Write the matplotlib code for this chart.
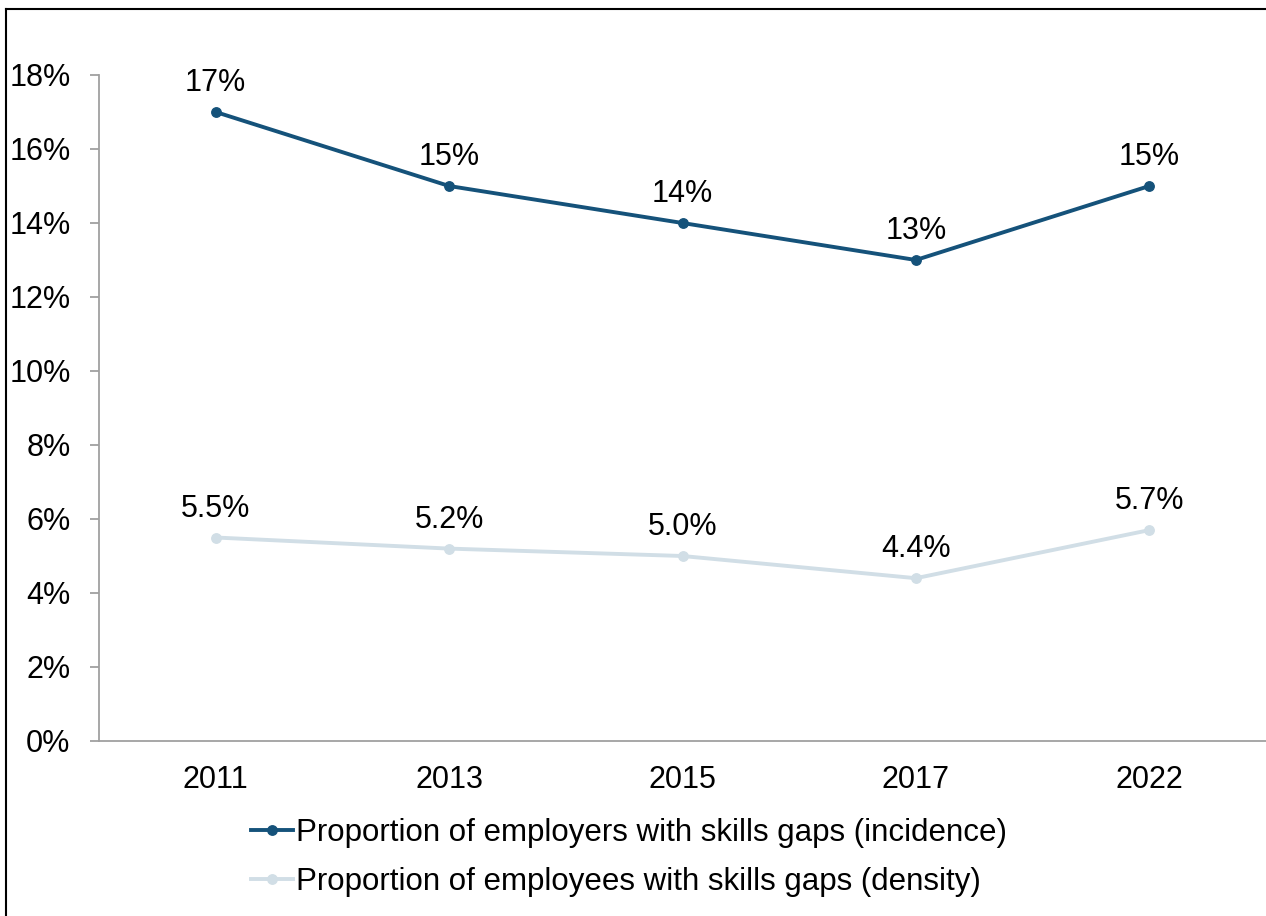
import matplotlib
matplotlib.use("Agg")
import matplotlib.pyplot as plt
from matplotlib.lines import Line2D

years = ["2011", "2013", "2015", "2017", "2022"]
incidence = [17, 15, 14, 13, 15]
density = [5.5, 5.2, 5.0, 4.4, 5.7]
incidence_labels = ["17%", "15%", "14%", "13%", "15%"]
density_labels = ["5.5%", "5.2%", "5.0%", "4.4%", "5.7%"]
yticks = [0, 2, 4, 6, 8, 10, 12, 14, 16, 18]
ytick_labels = [f"{v}%" for v in yticks]
series_names = ["Proportion of employers with skills gaps (incidence)",
                "Proportion of employees with skills gaps (density)"]

plt.rcParams['font.family'] = ['Liberation Sans', 'DejaVu Sans']

W, H = 1266, 916
FS = 22
fig = plt.figure(figsize=(W / 100, H / 100), dpi=100)
ax = fig.add_axes([99 / W, 1 - 741 / H, 1 - 99 / W, (741 - 75) / H])

dark = "#15527A"
light = "#D1DEE6"
LW, MS = 2.8, 6.8
x = list(range(len(years)))

ax.plot(x, incidence, color=dark, lw=LW, marker="o", ms=MS, label=series_names[0], zorder=3)
ax.plot(x, density, color=light, lw=LW, marker="o", ms=MS, label=series_names[1], zorder=3)

for xi, v, t in zip(x, incidence, incidence_labels):
    ax.annotate(t, (xi, v), xytext=(0, 10), textcoords="offset points",
                ha="center", va="bottom", fontsize=FS, color="black")
for xi, v, t in zip(x, density, density_labels):
    ax.annotate(t, (xi, v), xytext=(0, 10), textcoords="offset points",
                ha="center", va="bottom", fontsize=FS, color="black")

ax.set_xlim(-0.5, len(years) - 0.5)
ax.set_ylim(0, 18)
ax.set_yticks(yticks)
ax.set_yticklabels(ytick_labels)
ax.set_xticks(x)
ax.set_xticklabels(years)

for s in ["top", "right"]:
    ax.spines[s].set_visible(False)
for s in ["left", "bottom"]:
    ax.spines[s].set_color("#A0A0A0")
    ax.spines[s].set_linewidth(1.3)

ax.tick_params(axis="y", length=6.5, width=1.3, color="#A0A0A0", pad=14, labelsize=FS)
ax.tick_params(axis="x", length=0, pad=17, labelsize=FS)

handles = [Line2D([], [], color=dark, lw=LW, marker="o", ms=MS),
           Line2D([], [], color=light, lw=LW, marker="o", ms=MS)]
fig.legend(handles, series_names, loc="upper center", bbox_to_anchor=(629 / W, 1 - 802 / H),
           frameon=False, fontsize=22.5, handlelength=1.35, handletextpad=0.1,
           labelspacing=0.62, borderpad=0)

# outer border (top and left visible)
fig.add_artist(Line2D([6 / W, 6 / W], [0, 1 - 9 / H], transform=fig.transFigure, color="black", lw=1.5))
fig.add_artist(Line2D([6 / W, 1], [1 - 9 / H, 1 - 9 / H], transform=fig.transFigure, color="black", lw=1.5))

fig.savefig("out.png", dpi=100)
